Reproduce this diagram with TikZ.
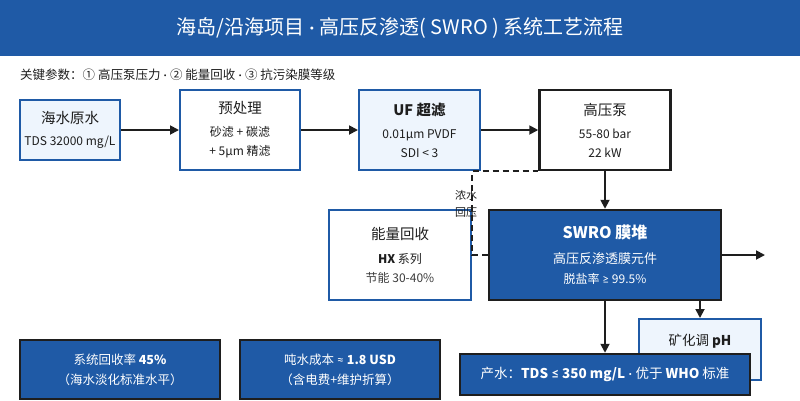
\documentclass[tikz,border=0pt]{standalone}
\usepackage{fontspec}
\setmainfont{Noto Sans CJK SC}
\newfontfamily\latinfont{Lato}
\usetikzlibrary{arrows.meta}

\definecolor{mainblue}{HTML}{1F5AA6}
\definecolor{paleblue}{HTML}{EEF5FD}
\definecolor{ink}{HTML}{1E1E1E}
\definecolor{subink}{HTML}{3C3C3C}

\newcommand{\fsz}[2]{\fontsize{#1}{#2}\selectfont}
\newcommand{\sep}{{\latinfont\ ·\ }}
\newcommand{\sym}[1]{{\latinfont #1}}

\tikzset{
  stage/.style={draw=mainblue, line width=2pt, fill=white, text=ink,
    align=center, inner sep=0pt, font=\fsz{12}{19}},
  lightstage/.style={stage, fill=paleblue},
  heavy/.style={draw=ink, line width=2.5pt, fill=white, text=ink,
    align=center, inner sep=0pt, font=\fsz{12}{19}},
  solidstage/.style={draw=ink, line width=2.5pt, fill=mainblue, text=white,
    align=center, inner sep=0pt, font=\fsz{12}{20}},
  flow/.style={draw=ink, line width=1.8pt, -{Triangle[length=9pt,width=9pt]}},
  backflow/.style={draw=ink, line width=1.8pt, dash pattern=on 6pt off 4pt},
}

\begin{document}
\begin{tikzpicture}[x=1pt,y=-1pt]
\useasboundingbox (0,0) rectangle (800,400);

% header
\node[fill=mainblue, minimum width=800, minimum height=56, inner sep=0pt,
  text=white, font=\fsz{20}{24}] (banner) at (400,28)
  {海岛/沿海项目\sep 高压反渗透( SWRO ) 系统工艺流程};
\node[anchor=west, text=ink, font=\fsz{12.5}{15}, inner sep=0pt] (keys) at (20,75)
  {关键参数：① 高压泵压力\sep ② 能量回收\sep ③ 抗污染膜等级};

% main line
\node[lightstage, minimum width=100, minimum height=60] (raw) at (70,130)
  {{\fsz{14.5}{14.5}海水原水}\\[3pt]TDS 32000 mg/L};
\node[stage, minimum width=120, minimum height=80] (pre) at (240,130)
  {{\fsz{14.5}{14.5}预处理}\\[4pt]砂滤 + 碳滤\\+ 5µm 精滤};
\node[lightstage, minimum width=121, minimum height=80] (uf) at (419.5,130)
  {{\fsz{14.5}{14.5}\bfseries UF 超滤}\\[4pt]0.01µm PVDF\\SDI < 3};
\node[heavy, minimum width=131, minimum height=80] (pump) at (605,130)
  {{\fsz{14.5}{14.5}高压泵}\\[4pt]55-80 bar\\22 kW};

\node[stage, minimum width=142, minimum height=90] (erd) at (400,255)
  {{\fsz{14.5}{14.5}能量回收}\\[5pt]{\bfseries HX} 系列\\{\color{subink}节能 30-40\%}};
\node[solidstage, minimum width=232, minimum height=90] (swro) at (605,255)
  {{\fsz{16}{16}\bfseries SWRO 膜堆}\\[5pt]{\fsz{13}{20}高压反渗透膜元件}\\脱盐率 \sym{≥} 99.5\%};

\node[lightstage, minimum width=122, minimum height=61] (ph) at (700,349.5) {};
\node[text=ink, font=\fsz{13.5}{16}, inner sep=0pt] (phlabel) at (700,341) {矿化调 {\bfseries pH}};
\node[solidstage, minimum width=290, minimum height=41, font=\fsz{13.5}{16}] (prod) at (605,374.5)
  {产水：{\bfseries TDS \sym{≤} 350 mg/L}\sep 优于 {\bfseries WHO} 标准};

% indicators
\node[solidstage, minimum width=200, minimum height=59, font=\fsz{12.5}{20}] (recovery) at (120,369.5)
  {系统回收率 {\bfseries 45\%}\\（海水淡化标准水平）};
\node[solidstage, minimum width=200, minimum height=59, font=\fsz{12.5}{20}] (cost) at (340,369.5)
  {吨水成本 \sym{≈} {\bfseries 1.8 USD}\\（含电费+维护折算）};

\coordinate (outlet) at (765,255);

\draw[flow] (raw) -- (pre);
\draw[flow] (pre) -- (uf);
\draw[flow] (uf) -- (pump);
\draw[flow] (pump) -- (swro);
\draw[flow] (swro) -- (outlet);
\draw[flow] (swro) -- (prod);
\draw[flow] (ph.north |- swro.south) -- (ph.north);
\draw[backflow] (swro.west) -- (swro.west -| erd.east) -- (erd.east |- pump.south) -- (pump.south west);
\node[text=ink, font=\fsz{11}{17}, align=center, inner sep=0pt] (backlabel) at (466,204) {浓水\\回压};

\end{tikzpicture}
\end{document}
